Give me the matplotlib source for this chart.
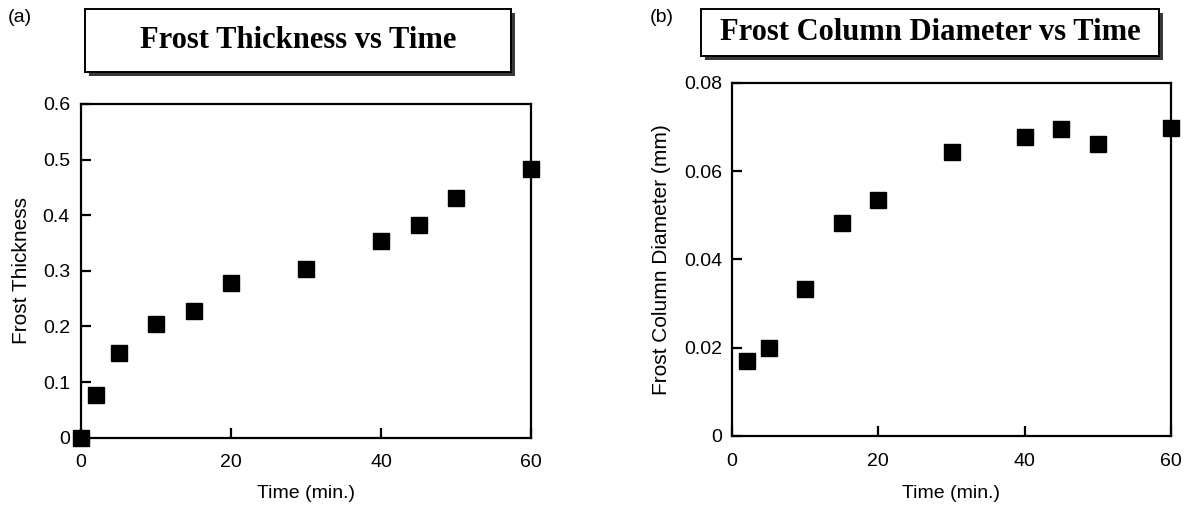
import matplotlib
matplotlib.use("Agg")
import matplotlib.pyplot as plt
from matplotlib.patches import Rectangle

# ---- data ----
time_a = [0, 2, 5, 10, 15, 20, 30, 40, 45, 50, 60]
thickness = [0.0, 0.076, 0.152, 0.204, 0.228, 0.279, 0.303, 0.354, 0.382, 0.431, 0.483]
time_b = [2, 5, 10, 15, 20, 30, 40, 45, 50, 60]
diameter = [0.0170, 0.0199, 0.0333, 0.0482, 0.0535, 0.0644, 0.0678, 0.0695, 0.0661, 0.0697]

x_ticks = [0, 20, 40, 60]
y_ticks_a = [0, 0.1, 0.2, 0.3, 0.4, 0.5, 0.6]
y_tick_labels_a = ["0", "0.1", "0.2", "0.3", "0.4", "0.5", "0.6"]
y_ticks_b = [0, 0.02, 0.04, 0.06, 0.08]
y_tick_labels_b = ["0", "0.02", "0.04", "0.06", "0.08"]

title_a = "Frost Thickness vs Time"
title_b = "Frost Column Diameter vs Time"
ylabel_a = "Frost Thickness"
ylabel_b = "Frost Column Diameter (mm)"
xlabel = "Time (min.)"

W, H = 1189, 507
plt.rcParams['font.family'] = ['Liberation Sans', 'DejaVu Sans']
fig = plt.figure(figsize=(W / 100, H / 100), dpi=100)


def px_axes(x0, y0, x1, y1):
    return fig.add_axes([x0 / W, 1 - y1 / H, (x1 - x0) / W, (y1 - y0) / H])


def style(ax, ticks, labels, ylim, ylab, ypad, ylab_x, xlab_y):
    ax.set_xlim(0, 60)
    ax.set_ylim(*ylim)
    ax.set_xticks(x_ticks)
    ax.set_xticklabels([str(t) for t in x_ticks])
    ax.set_yticks(ticks)
    ax.set_yticklabels(labels)
    for s in ax.spines.values():
        s.set_linewidth(1.6)
    ax.tick_params(direction='in', length=7, width=1.6, labelsize=14)
    ax.tick_params(axis='x', pad=12)
    ax.tick_params(axis='y', pad=ypad)
    ax.set_ylabel(ylab, fontsize=15)
    ax.set_xlabel(xlabel, fontsize=14)
    ax.yaxis.set_label_coords(ylab_x, 0.5)
    ax.xaxis.set_label_coords(0.5, xlab_y)


def title_box(x0, y0, x1, y1, text, off=4):
    shadow = Rectangle(((x0 + off) / W, 1 - (y1 + off) / H), (x1 - x0) / W, (y1 - y0) / H,
                       transform=fig.transFigure, facecolor='#3a3a3a', edgecolor='none', zorder=1)
    box = Rectangle((x0 / W, 1 - y1 / H), (x1 - x0) / W, (y1 - y0) / H,
                    transform=fig.transFigure, facecolor='white', edgecolor='black',
                    linewidth=1.4, zorder=2)
    fig.patches.extend([shadow, box])
    fig.text((x0 + x1) / 2 / W, 1 - (y0 + y1) / 2 / H, text, ha='center', va='center',
             family='Liberation Serif', weight='bold', fontsize=22, zorder=3)


# panel (a)
ax1 = px_axes(81, 104, 531, 437.7)
ax1.plot(time_a, thickness, 's', color='black', markersize=11, clip_on=False)
style(ax1, y_ticks_a, y_tick_labels_a, (0, 0.6), ylabel_a, 8, -0.111, -0.142)

# panel (b)
ax2 = px_axes(732, 82.7, 1171, 436)
ax2.plot(time_b, diameter, 's', color='black', markersize=11, clip_on=False)
style(ax2, y_ticks_b, y_tick_labels_b, (0, 0.08), ylabel_b, 7, -0.139, -0.139)

title_box(85, 9, 511, 72, title_a)
title_box(701, 9, 1159, 56, title_b)

fig.text(8 / W, 1 - 17 / H, "(a)", fontsize=14, va='center', ha='left')
fig.text(650 / W, 1 - 17 / H, "(b)", fontsize=14, va='center', ha='left')

fig.savefig("out.png", dpi=100)
